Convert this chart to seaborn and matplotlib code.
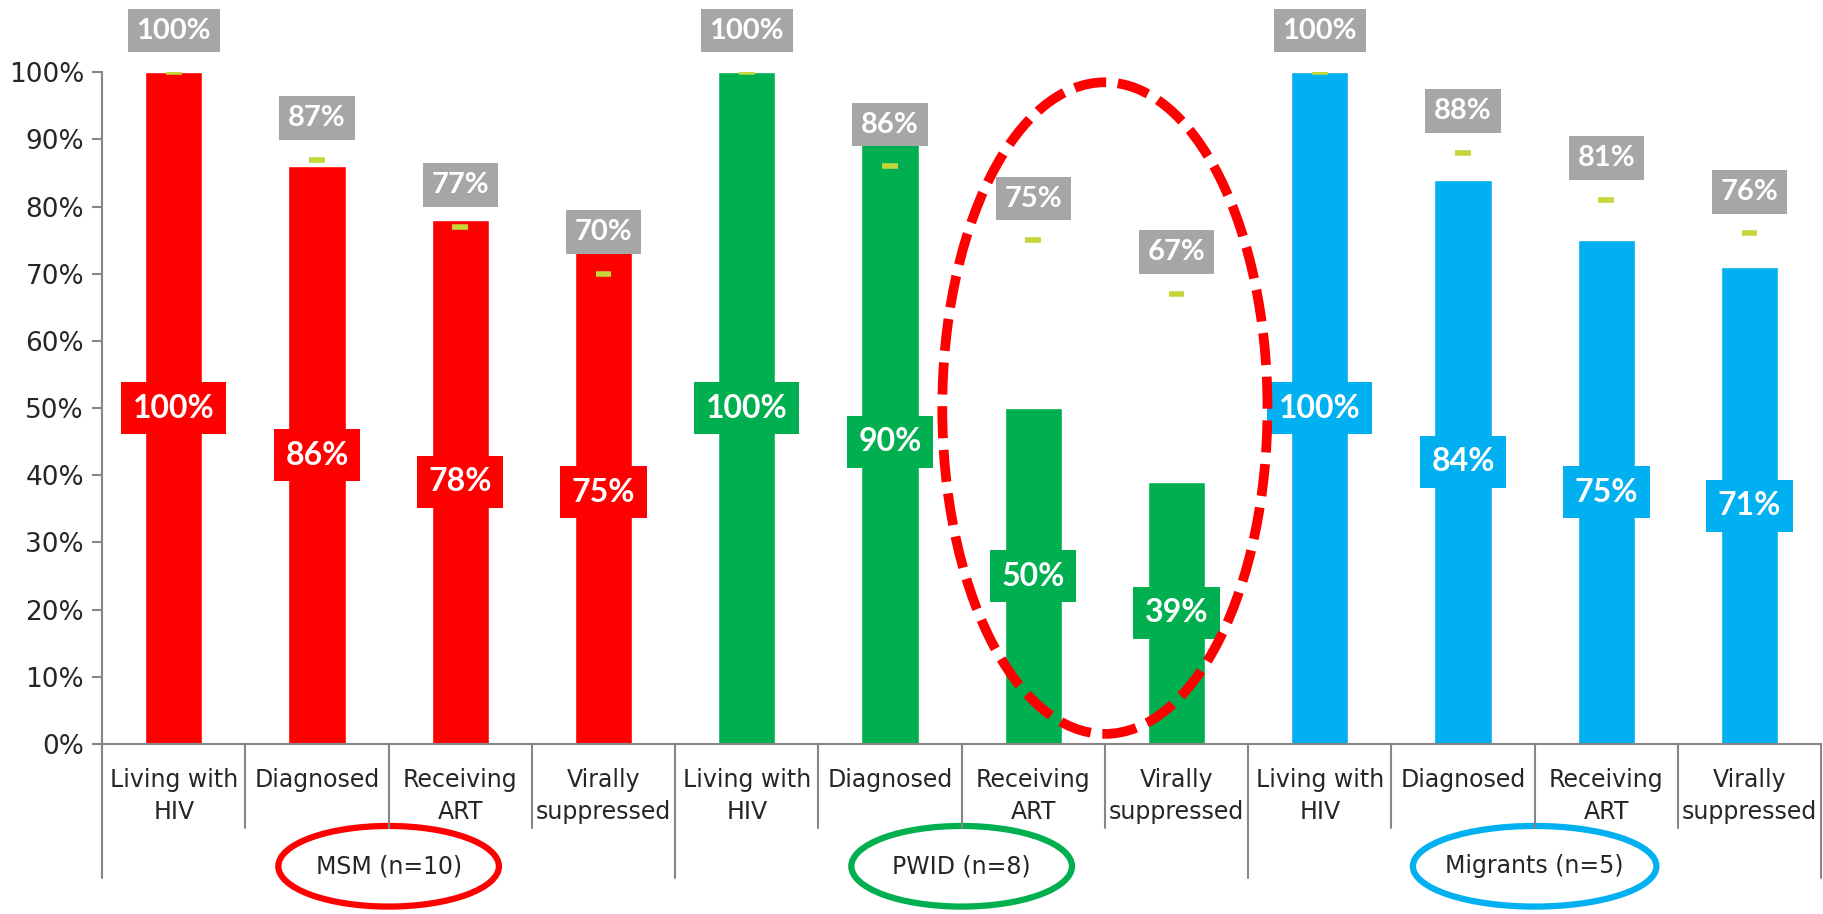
import pandas as pd
import numpy as np
import matplotlib
matplotlib.use("Agg")
import matplotlib.pyplot as plt
import seaborn as sns
from matplotlib.patches import Ellipse

sns.set_style("white")
plt.rcParams["font.family"] = ["DejaVu Sans"]

# 데이터
groups = ["MSM (n=10)", "PWID (n=8)", "Migrants (n=5)"]
stages = ["Living with\nHIV", "Diagnosed", "Receiving\nART", "Virally\nsuppressed"]
bar_values = [100, 86, 78, 75, 100, 90, 50, 39, 100, 84, 75, 71]
target_values = [100, 87, 77, 70, 100, 86, 75, 67, 100, 88, 81, 76]
group_colors = ["#FF0000", "#00B050", "#00B0F0"]

df = pd.DataFrame({
    "key": [f"{g}|{s}" for g in groups for s in stages],
    "group": [g for g in groups for s in stages],
    "stage": [s for g in groups for s in stages],
    "value": bar_values,
    "target": target_values,
})

fig = plt.figure(figsize=(18.23, 9.14), dpi=100)
ax = fig.add_axes([0.056, 0.186, 0.943, 0.735])

sns.barplot(data=df, x="key", y="value", hue="group", palette=group_colors,
            dodge=False, width=0.4, legend=False, saturation=1, ax=ax)

x = np.arange(len(df))
ax.set_xlim(-0.5, len(df) - 0.5)
ax.set_ylim(0, 100)

# 목표치 표시 (연두색 대시)
ax.hlines(df["target"], x - 0.055, x + 0.055, color="#C4D63A", lw=4, zorder=4)

label_font = ["Lato", "DejaVu Sans"]
for i, row in df.iterrows():
    col = group_colors[groups.index(row["group"])]
    # 막대 안 라벨
    ax.text(i, row["value"] / 2, f"{row['value']}%", ha="center", va="center",
            color="white", fontsize=23, fontweight="bold", family=label_font,
            bbox=dict(boxstyle="square,pad=0.36", fc=col, ec="none"), zorder=5)
    # 목표치 라벨 (회색 박스)
    ax.text(i, row["target"] + 6.2, f"{row['target']}%", ha="center", va="center",
            color="white", fontsize=21, fontweight="bold", family=label_font,
            bbox=dict(boxstyle="square,pad=0.3", fc="#A6A6A6", ec="none"),
            zorder=5, clip_on=False)

# 축 설정
ax.set_yticks(range(0, 101, 10))
ax.set_yticklabels([f"{v}%" for v in range(0, 101, 10)], fontsize=19)
ax.set_xticks(x)
ax.set_xticklabels([s for g in groups for s in stages], fontsize=17, linespacing=1.45)
ax.tick_params(axis="x", length=0, pad=17)
ax.tick_params(axis="y", length=7, width=1.5, color="#868686", direction="out", left=True, pad=6)
ax.set_xlabel("")
ax.set_ylabel("")
for side in ["top", "right"]:
    ax.spines[side].set_visible(False)
for side in ["left", "bottom"]:
    ax.spines[side].set_color("#868686")
    ax.spines[side].set_linewidth(1.5)

# 카테고리 구분선
for b in np.arange(-0.5, len(df), 1.0):
    bottom = -20 if int(b + 0.5) % 4 == 0 else -12.5
    ax.plot([b, b], [0, bottom], color="#868686", lw=1.5, clip_on=False)

# 그룹 라벨 + 타원
ell_widths = [1.54, 1.54, 1.70]
for k, g in enumerate(groups):
    cx = k * 4 + 1.5
    ax.text(cx, -18.2, g, ha="center", va="center", fontsize=17)
    ax.add_patch(Ellipse((cx, -18.2), ell_widths[k], 12, fill=False,
                         ec=group_colors[k], lw=4.5, clip_on=False))

# PWID 강조 점선 타원
ax.add_patch(Ellipse((6.5, 50), 2.27, 97, fill=False, ec="#FF0000", lw=7,
                     linestyle=(0, (3.3, 1.2)), zorder=6, clip_on=False))

fig.savefig("out.png", dpi=100)
